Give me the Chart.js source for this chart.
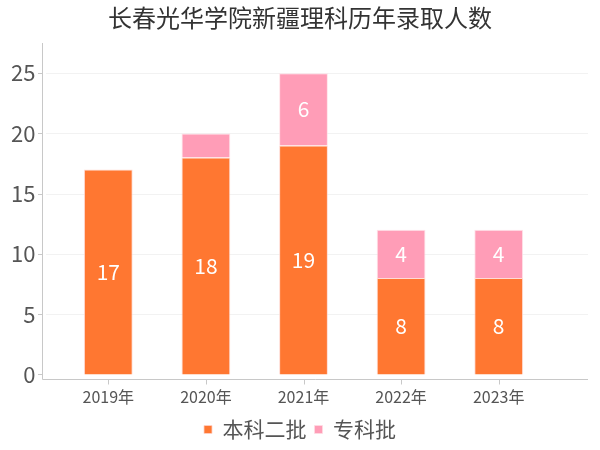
<!DOCTYPE html>
<html>
<head>
<meta charset="utf-8">
<script src="https://cdn.jsdelivr.net/npm/chart.js@4/dist/chart.umd.min.js"></script>
<style>
  body { margin: 0; background: #fff; }
  #wrap { width: 600px; height: 450px; }
</style>
</head>
<body>
<div id="wrap"><canvas id="admissionChart"></canvas></div>
<script>
const years = ['2019年', '2020年', '2021年', '2022年', '2023年'];
const undergrad = [17, 18, 19, 8, 8];
const vocational = [0, 2, 6, 4, 4];
const yTicks = [0, 5, 10, 15, 20, 25];

const FONT = '"Noto Sans CJK SC", "Noto Sans", sans-serif';
const AXIS_LEFT = 42, AXIS_RIGHT = 588;

// axis lines, grid and tick marks drawn by hand so the axis can run past the bars
const axesPlugin = {
    id: 'axes',
    beforeDatasetsDraw(chart) {
        const { ctx, chartArea, scales: { x, y } } = chart;
        ctx.save();
        ctx.lineWidth = 1;
        ctx.strokeStyle = '#f2f2f2';
        yTicks.forEach(v => {
            if (v === 0) return;
            const py = Math.round(y.getPixelForValue(v)) + 0.5;
            ctx.beginPath();
            ctx.moveTo(AXIS_LEFT + 4, py);
            ctx.lineTo(AXIS_RIGHT, py);
            ctx.stroke();
        });
        ctx.strokeStyle = '#c8c8c8';
        const bottom = Math.round(chartArea.bottom) + 0.5;
        ctx.beginPath();
        ctx.moveTo(AXIS_LEFT + 0.5, chartArea.top);
        ctx.lineTo(AXIS_LEFT + 0.5, bottom);
        ctx.lineTo(AXIS_RIGHT, bottom);
        ctx.stroke();
        yTicks.forEach(v => {
            const py = Math.round(y.getPixelForValue(v)) + 0.5;
            ctx.beginPath();
            ctx.moveTo(AXIS_LEFT - 4, py);
            ctx.lineTo(AXIS_LEFT, py);
            ctx.stroke();
        });
        years.forEach((_, i) => {
            const px = Math.round(x.getPixelForValue(i)) + 0.5;
            ctx.beginPath();
            ctx.moveTo(px, bottom);
            ctx.lineTo(px, bottom + 5);
            ctx.stroke();
        });
        ctx.restore();
    },
    afterDatasetsDraw(chart) {
        const { ctx } = chart;
        ctx.save();
        ctx.fillStyle = '#fff';
        ctx.font = '21px ' + FONT;
        ctx.textAlign = 'center';
        ctx.textBaseline = 'middle';
        chart.data.datasets.forEach((ds, di) => {
            chart.getDatasetMeta(di).data.forEach((bar, i) => {
                const v = ds.data[i];
                if (v <= 2) return;
                const c = bar.getCenterPoint();
                ctx.fillText(String(v), c.x, c.y);
            });
        });
        ctx.restore();
    }
};

new Chart(document.getElementById('admissionChart'), {
    type: 'bar',
    data: {
        labels: years,
        datasets: [{
            label: '本科二批',
            data: undergrad,
            backgroundColor: '#ff7731',
            borderColor: 'rgba(255,210,200,0.8)',
            borderWidth: 1,
            barPercentage: 0.5,
            categoryPercentage: 1
        }, {
            label: '专科批',
            data: vocational,
            backgroundColor: '#ff9db7',
            borderColor: 'rgba(255,220,228,0.8)',
            borderWidth: 1,
            barPercentage: 0.5,
            categoryPercentage: 1
        }]
    },
    options: {
        responsive: true,
        maintainAspectRatio: false,
        animation: false,
        layout: { padding: 0 },
        scales: {
            x: {
                stacked: true,
                grid: { display: false, drawTicks: false },
                border: { display: false },
                ticks: { color: '#555', font: { family: FONT, size: 16 }, padding: 8 },
                afterFit(scale) { scale.height = 32; }
            },
            y: {
                stacked: true,
                min: -0.375,
                max: 27.5,
                grid: { display: false, drawTicks: false },
                border: { display: false },
                afterBuildTicks(scale) { scale.ticks = yTicks.map(v => ({ value: v })); },
                ticks: { color: '#555', font: { family: FONT, size: 22 }, padding: 24 },
                afterFit(scale) { scale.width = 59.5; }
            },
            // empty right-hand axis that only reserves the space right of the bars
            spacer: {
                type: 'linear',
                position: 'right',
                grid: { display: false, drawTicks: false },
                border: { display: false },
                ticks: { display: false },
                afterFit(scale) { scale.width = 52.5; }
            }
        },
        plugins: {
            title: {
                display: true,
                text: '长春光华学院新疆理科历年录取人数',
                color: '#333',
                font: { family: FONT, size: 24, weight: 'normal' },
                padding: { top: 3, bottom: 11.2 }
            },
            legend: {
                position: 'bottom',
                labels: {
                    color: '#555',
                    font: { family: FONT, size: 21 },
                    boxWidth: 8,
                    boxHeight: 8,
                    padding: 8
                }
            },
            tooltip: { enabled: false }
        }
    },
    plugins: [axesPlugin]
});
</script>
</body>
</html>
